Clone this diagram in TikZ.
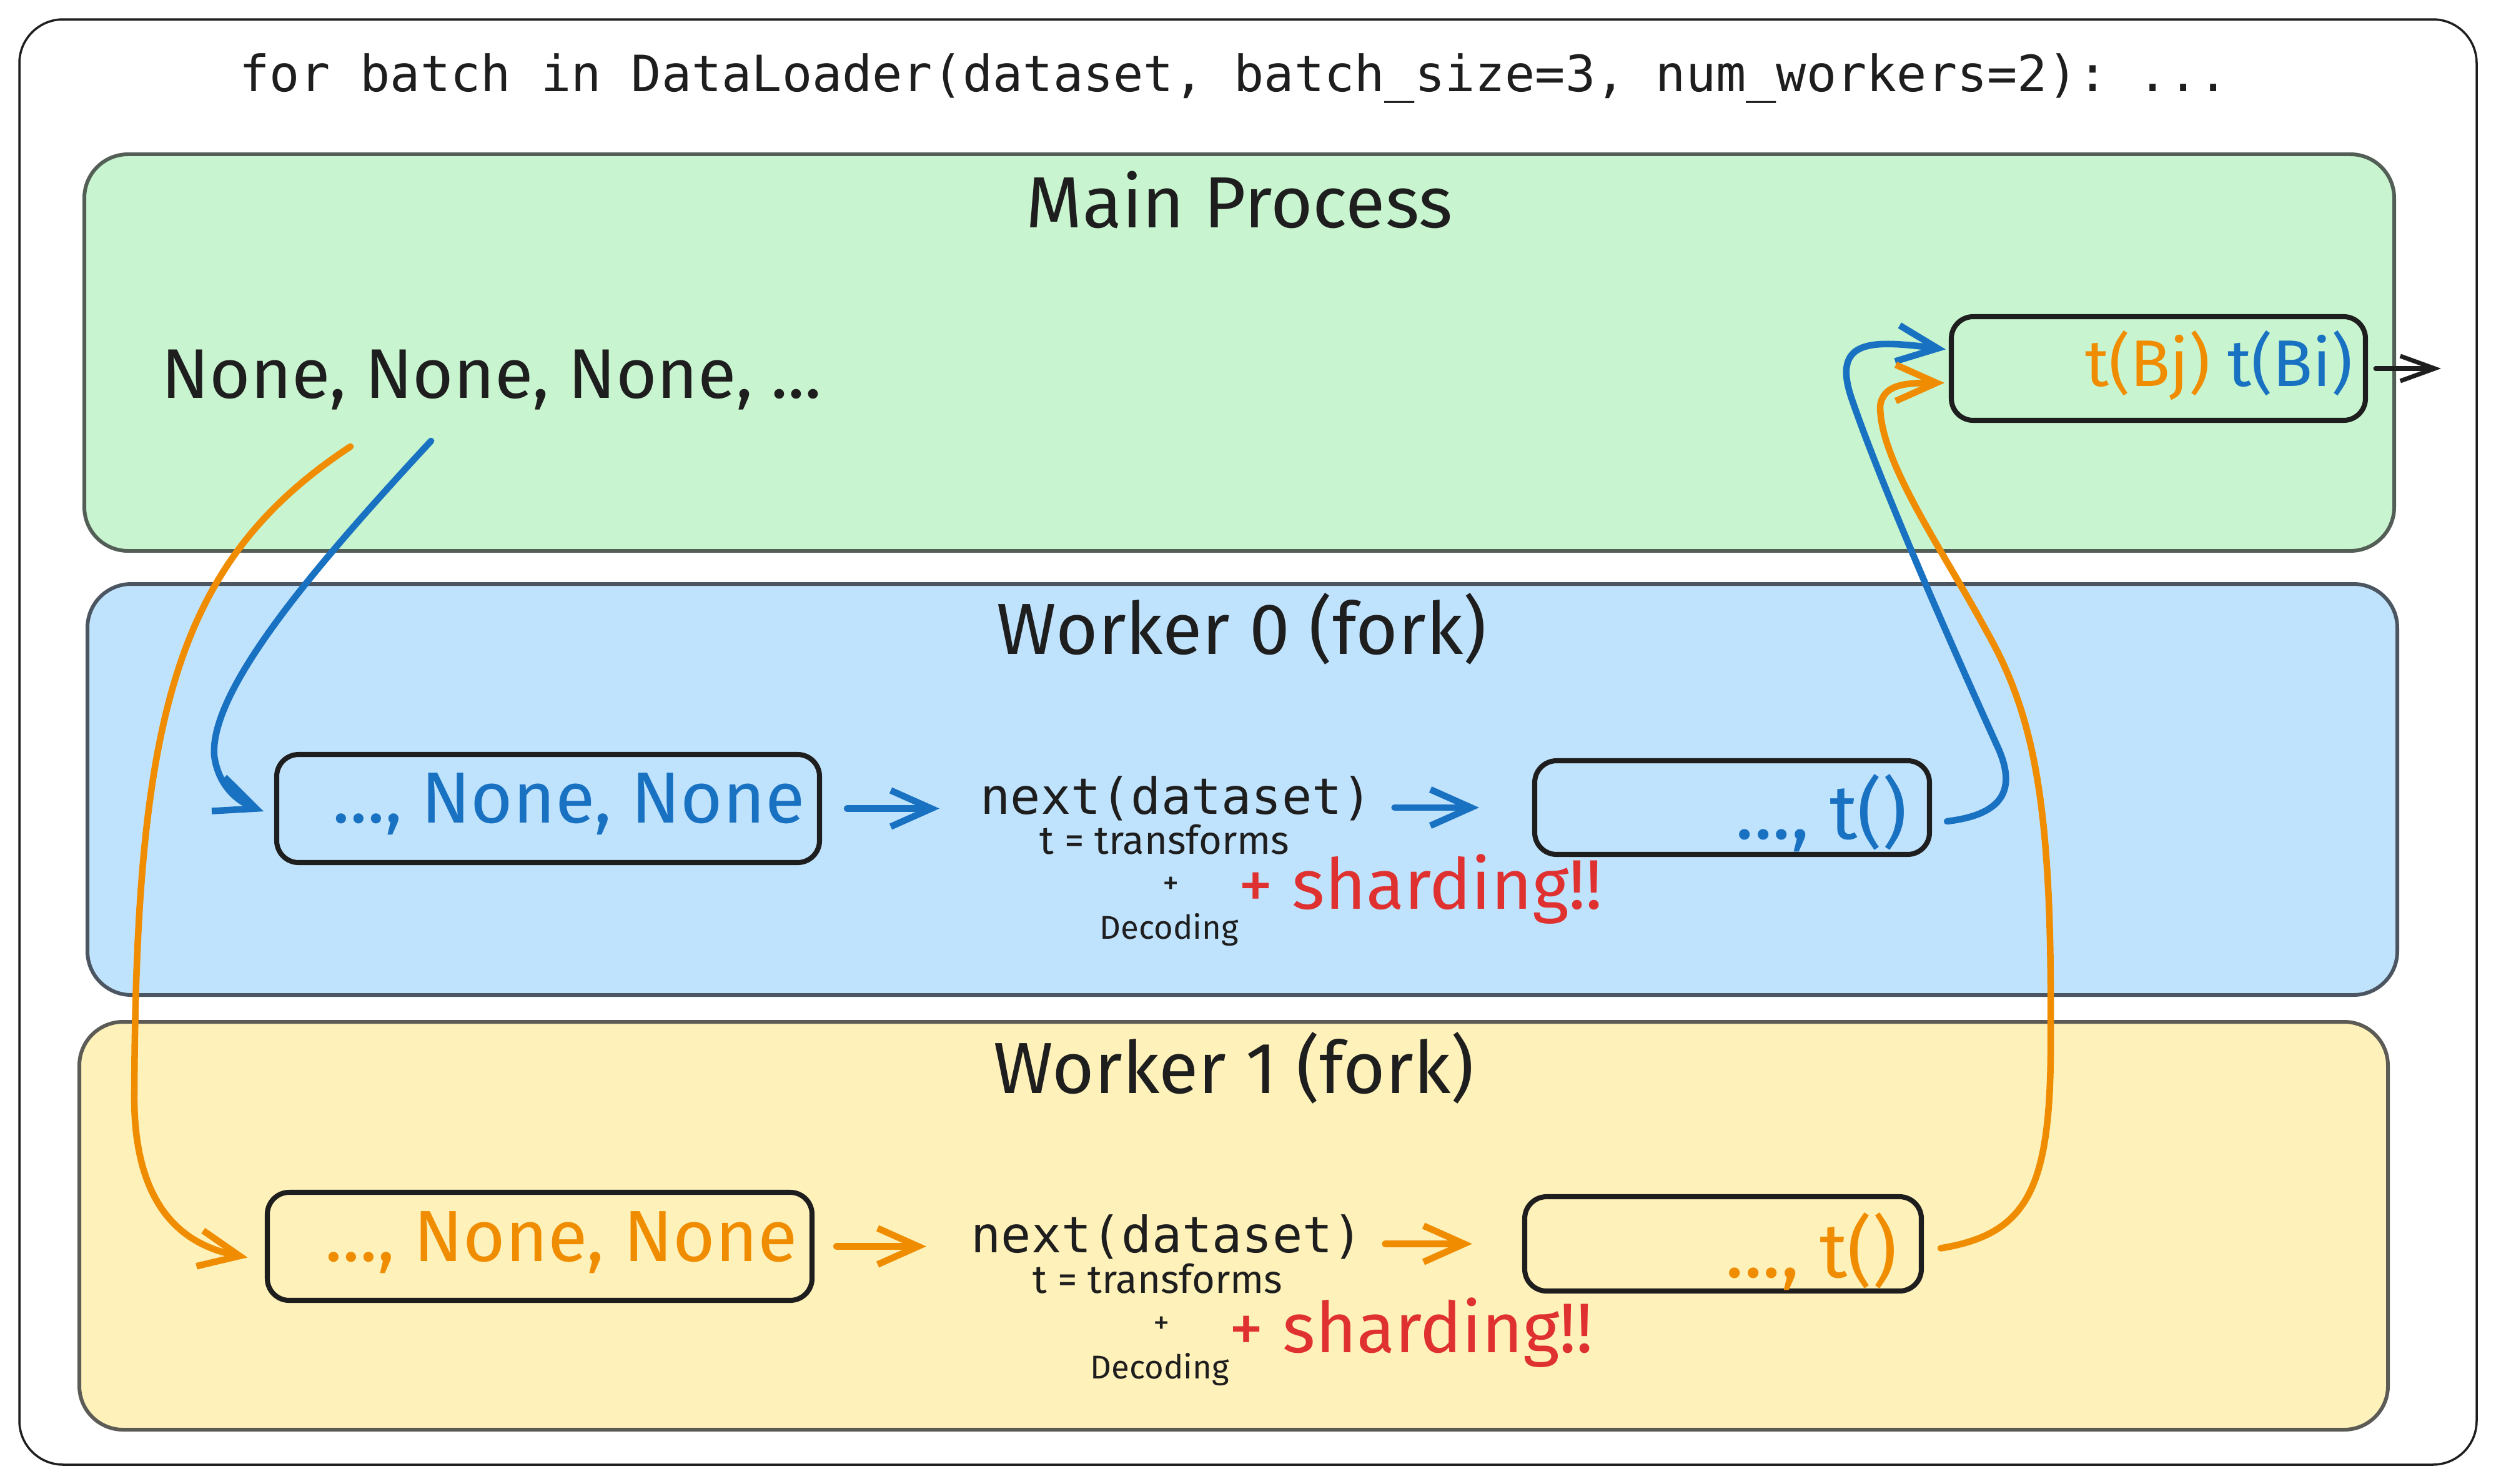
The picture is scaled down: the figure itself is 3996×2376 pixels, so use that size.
\documentclass[tikz,border=0pt]{standalone}
\usepackage{fontspec}
\setmainfont{Fira Sans}
\setmonofont{DejaVu Sans Mono}
\usetikzlibrary{arrows.meta}
\definecolor{ink}{HTML}{1E1E1E}
\definecolor{eblue}{HTML}{1971C2}
\definecolor{eorange}{HTML}{F08C00}
\definecolor{ered}{HTML}{E03131}
\definecolor{gfill}{HTML}{C8F5D0}
\definecolor{bfill}{HTML}{C0E3FD}
\definecolor{yfill}{HTML}{FEF1B9}
\definecolor{gedge}{HTML}{525E56}
\definecolor{bedge}{HTML}{4B5662}
\definecolor{yedge}{HTML}{5C5B55}
\begin{document}
\begin{tikzpicture}[x=0.1mm,y=-0.1mm,
  section/.style={rectangle, draw, line width=1.7pt, rounded corners=7mm, inner sep=0pt},
  slot/.style={rectangle, draw=ink, line width=2.3pt, rounded corners=3.5mm, inner sep=0pt},
  hand/.style={font=\fontsize{33}{40}\selectfont, text=ink, inner sep=0pt},
  code/.style={font=\ttfamily\fontsize{22.8}{27}\selectfont, text=ink, inner sep=0pt},
  smalltxt/.style={font=\fontsize{18}{22}\selectfont, text=ink, inner sep=0pt},
  tinytxt/.style={font=\fontsize{15}{18}\selectfont, text=ink, inner sep=0pt},
  shardtxt/.style={font=\fontsize{32}{38}\selectfont, text=ered, inner sep=0pt},
  flow/.style={line width=3pt, line cap=round, line join=round, -{Straight Barb[length=6.5mm,width=5.8mm]}},
  bflow/.style={flow, draw=eblue},
  oflow/.style={flow, draw=eorange}]
\useasboundingbox (0,0) rectangle (3996,2376);
\fill[white] (0,0) rectangle (3996,2376);
% outer frame
\node[draw=ink, line width=1pt, rounded corners=7mm, minimum width=393.4mm, minimum height=231.4mm, inner sep=0pt] (frame) at (1998,1188) {};
\node[code, anchor=base west] (title) at (383,146) {for batch in DataLoader(dataset, batch\_size=3, num\_workers=2): ...};
% sections
\node[section, draw=gedge, fill=gfill, minimum width=369.8mm, minimum height=63.5mm] (main) at (1984,564.5) {};
\node[section, draw=bedge, fill=bfill, minimum width=369.8mm, minimum height=65.8mm] (w0) at (1989,1264) {};
\node[section, draw=yedge, fill=yfill, minimum width=369.6mm, minimum height=65.3mm] (w1) at (1975,1962.5) {};
\node[hand, anchor=base] (mainlbl) at (1984,364) {Main Process};
\node[hand, anchor=base] (w0lbl) at (1988,1047) {Worker 0 (fork)};
\node[hand, anchor=base] (w1lbl) at (1975,1750) {Worker 1 (fork)};
% main process content
\node[hand, font=\fontsize{32}{40}\selectfont, anchor=base west] (nones) at (258,637) {None, None, None, ...};
\node[slot, minimum width=66.3mm, minimum height=16.6mm] (outbox) at (3455.5,590) {};
\node[hand, font=\fontsize{30}{36}\selectfont, anchor=base east] (outtxt) at (3767,618) {\textcolor{eorange}{t(Bj)} \textcolor{eblue}{t(Bi)}};
% worker 0
\node[slot, minimum width=86.9mm, minimum height=17.3mm] (w0in) at (877.5,1294.5) {};
\node[hand, text=eblue, anchor=base east] (w0intxt) at (1289,1317) {..., None, None};
\node[code, anchor=base west] (next0) at (1569,1303) {next(dataset)};
\node[smalltxt, anchor=base west] (tr0) at (1664,1367) {t = transforms};
\node[tinytxt] (plus0) at (1875,1418) {+};
\node[tinytxt, anchor=base west] (dec0) at (1760,1503) {Decoding};
\node[shardtxt, anchor=base west] (shard0) at (1982,1455) {+ sharding!!};
\node[slot, minimum width=63.2mm, minimum height=15mm] (w0out) at (2773,1293) {};
\node[hand, font=\fontsize{35}{40}\selectfont, text=eblue, anchor=base east] (w0outtxt) at (3054,1343) {..., t()};
% worker 1
\node[slot, minimum width=87.2mm, minimum height=17.3mm] (w1in) at (864,1995.5) {};
\node[hand, text=eorange, anchor=base east] (w1intxt) at (1277,2019) {..., None, None};
\node[code, anchor=base west] (next1) at (1554,2005) {next(dataset)};
\node[smalltxt, anchor=base west] (tr1) at (1653,2070) {t = transforms};
\node[tinytxt] (plus1) at (1860,2122) {+};
\node[tinytxt, anchor=base west] (dec1) at (1745,2207) {Decoding};
\node[shardtxt, anchor=base west] (shard1) at (1967,2165) {+ sharding!!};
\node[slot, minimum width=63.5mm, minimum height=15.1mm] (w1out) at (2758.5,1991.5) {};
\node[hand, font=\fontsize{35}{40}\selectfont, text=eorange, anchor=base east] (w1outtxt) at (3038,2045) {..., t()};
% coordinates
\coordinate (srcB) at (690,706);
\coordinate (srcO) at (561,715);
\coordinate (outend) at (3908,590);
% connectors
\draw[bflow, shorten >=1.8mm] (srcB) .. controls (520,890) and (335,1100) .. (343,1210) .. controls (350,1262) and (385,1285) .. ([yshift=-1.1mm]w0in.west);
\draw[oflow, shorten >=2.8mm] (srcO) .. controls (280,900) and (218,1150) .. (215,1750) .. controls (213,1940) and (300,1995) .. ([yshift=-2.3mm]w1in.west);
\draw[bflow, shorten >=0.5mm] ([xshift=2.4mm,yshift=-2.2mm]w0out.east) .. controls (3200,1305) and (3230,1270) .. (3200,1200) .. controls (3150,1090) and (3020,800) .. (2965,640) .. controls (2930,540) and (3000,545) .. ([yshift=3mm]outbox.west);
\draw[oflow, shorten >=0.7mm] ([xshift=2.7mm,yshift=-0.7mm]w1out.east) .. controls (3250,1975) and (3285,1900) .. (3283,1650) .. controls (3285,1300) and (3260,1150) .. (3180,1010) .. controls (3110,880) and (3010,740) .. (3010,650) .. controls (3015,615) and (3050,613) .. ([yshift=-2.3mm]outbox.west);
\draw[bflow, shorten <=4mm, shorten >=6.5mm] (w0in.east) -- (w0in.east -| next0.west);
\draw[bflow, shorten <=3.5mm, shorten >=8.5mm] (next0.east |- w0out.west) -- (w0out.west);
\draw[oflow, shorten <=3.5mm, shorten >=7.1mm] (w1in.east) -- (w1in.east -| next1.west);
\draw[oflow, shorten <=3.5mm, shorten >=8mm] (next1.east |- w1out.west) -- (w1out.west);
\draw[draw=ink, line width=2pt, line cap=round, line join=round, -{Straight Barb[length=5.5mm,width=4mm]}, shorten <=1.2mm] (outbox.east) -- (outend);
\end{tikzpicture}
\end{document}
